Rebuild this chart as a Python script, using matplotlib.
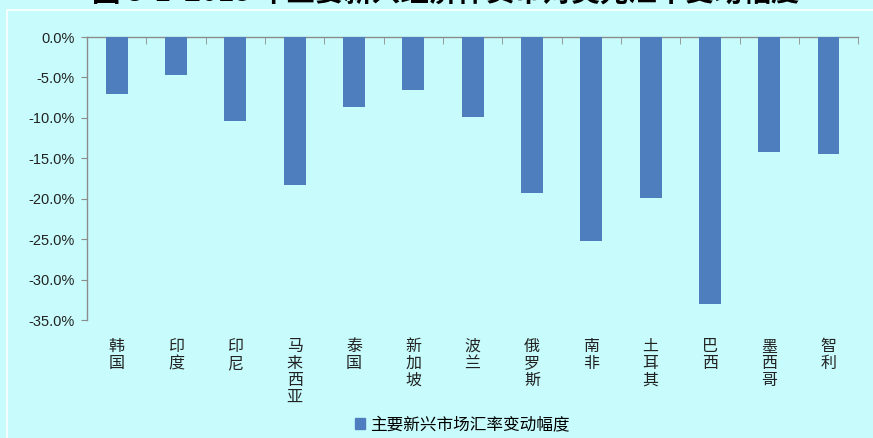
import numpy as np
import matplotlib
matplotlib.use('Agg')
import matplotlib.pyplot as plt
from matplotlib.patches import Patch, Rectangle
from matplotlib.ticker import FixedLocator, FuncFormatter

plt.rcParams['font.family'] = ['Noto Sans CJK SC', 'DejaVu Sans']

countries = ['韩国', '印度', '印尼', '马来西亚', '泰国', '新加坡', '波兰',
             '俄罗斯', '南非', '土耳其', '巴西', '墨西哥', '智利']
change_pct = [-7.0, -4.7, -10.4, -18.3, -8.6, -6.5, -9.9,
              -19.3, -25.2, -19.9, -33.0, -14.2, -14.5]
series_name = '主要新兴市场汇率变动幅度'
title = '图 3-1  2015 年主要新兴经济体货币对美元汇率变动幅度'

bg = '#C8FCFC'
bar_color = '#4F7EBE'
axis_grey = '#8C8C8C'

fig = plt.figure(figsize=(8.73, 4.38), dpi=100, facecolor=bg)
ax = fig.add_axes([0.0997, 0.2694, 0.8833, 0.6461])
ax.set_facecolor(bg)

x = np.arange(len(countries))
ax.bar(x, change_pct, width=0.37, color=bar_color, zorder=3)

ax.set_xlim(-0.5, len(countries) - 0.5)
ax.set_ylim(-35, 0)
ax.set_yticks(np.arange(-35, 0.1, 5))
ax.yaxis.set_major_formatter(FuncFormatter(
    lambda v, p: '0.0%' if abs(v) < 1e-9 else f'{v:.1f}%'))

# category labels stacked vertically, one character per line
ax.set_xticks(x)
ax.set_xticklabels(['\n'.join(c) for c in countries], va='top',
                   linespacing=1.0, fontsize=11.5, color='#222222')
ax.xaxis.set_minor_locator(FixedLocator(np.arange(-0.5, len(countries), 1.0)))
ax.tick_params(axis='x', which='major', length=0, pad=13)
ax.tick_params(axis='x', which='minor', top=True, bottom=False,
               direction='in', length=5, color=axis_grey)
ax.tick_params(axis='y', length=4, color=axis_grey, labelsize=10.5,
               labelcolor='#222222', pad=5)
for lab in ax.get_yticklabels():
    lab.set_family(['Liberation Sans', 'DejaVu Sans'])

for side in ['right', 'bottom']:
    ax.spines[side].set_visible(False)
for side in ['left', 'top']:
    ax.spines[side].set_color(axis_grey)
    ax.spines[side].set_linewidth(1.0)

fig.legend(handles=[Patch(color=bar_color, label=series_name)],
           loc='center', bbox_to_anchor=(0.53, 1 - 425 / 438),
           frameon=False, fontsize=12, handlelength=0.6, handleheight=0.6,
           handletextpad=0.3)

# thin white frame around the chart area
fig.patches.append(Rectangle((7 / 873, -0.05), 1.2, 1 - 10 / 438 + 0.05,
                             transform=fig.transFigure, fill=False,
                             edgecolor='white', linewidth=1.2))

# figure caption sits above the frame, its upper half past the top edge
fig.text(0.51, 1 + 7 / 438, title, ha='center', va='center',
         fontsize=20.5, fontweight='bold', color='black')

fig.savefig('out.png', dpi=100, facecolor=bg)
